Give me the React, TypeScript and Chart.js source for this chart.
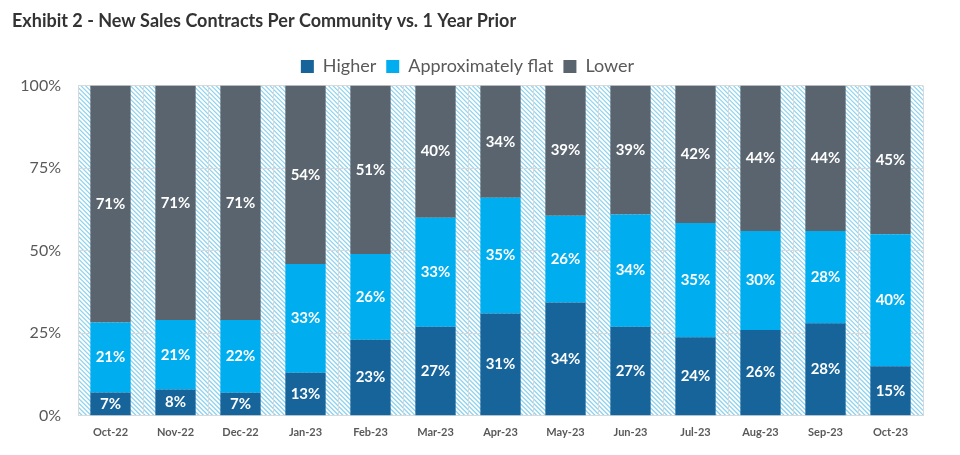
import React, { useEffect, useRef } from "react";
import { Chart, registerables } from "chart.js";

Chart.register(...registerables);

const categories = ["Oct-22", "Nov-22", "Dec-22", "Jan-23", "Feb-23", "Mar-23", "Apr-23", "May-23", "Jun-23", "Jul-23", "Aug-23", "Sep-23", "Oct-23"];
const higher = [7, 8, 7, 13, 23, 27, 31, 34, 27, 24, 26, 28, 15];
const flat = [21, 21, 22, 33, 26, 33, 35, 26, 34, 35, 30, 28, 40];
const lower = [71, 71, 71, 54, 51, 40, 34, 39, 39, 42, 44, 44, 45];
const seriesNames = ["Higher", "Approximately flat", "Lower"];
const seriesColors = ["#17649a", "#00aeef", "#59646f"];
const yTickValues = [0, 25, 50, 75, 100];

const FONT = "Lato, 'Open Sans', sans-serif";

const hatchPlugin = {
  id: "hatchBg",
  beforeDraw(chart: any) {
    const { ctx, chartArea } = chart;
    const { left, top, right, bottom } = chartArea;
    ctx.save();
    ctx.beginPath();
    ctx.rect(left, top, right - left, bottom - top);
    ctx.clip();
    ctx.fillStyle = "#ffffff";
    ctx.fillRect(left, top, right - left, bottom - top);
    ctx.strokeStyle = "#8fd4f0";
    ctx.lineWidth = 1.3;
    const h = bottom - top;
    ctx.beginPath();
    for (let x = left - h; x < right + 5; x += 4.5) {
      ctx.moveTo(x, top);
      ctx.lineTo(x + h, bottom);
    }
    ctx.stroke();
    ctx.restore();
  },
};

const labelPlugin = {
  id: "barLabels",
  afterDatasetsDraw(chart: any) {
    const { ctx } = chart;
    const raws = [higher, flat, lower];
    ctx.save();
    ctx.fillStyle = "#ffffff";
    ctx.font = `bold 15px ${FONT}`;
    ctx.textAlign = "center";
    ctx.textBaseline = "middle";
    chart.data.datasets.forEach((ds: any, di: number) => {
      const meta = chart.getDatasetMeta(di);
      meta.data.forEach((el: any, i: number) => {
        const y = (el.y + el.base) / 2;
        ctx.fillText(raws[di][i] + "%", el.x, y);
      });
    });
    ctx.restore();
  },
};

export default function App() {
  const ref = useRef<HTMLCanvasElement | null>(null);
  useEffect(() => {
    if (!ref.current) return;
    const totals = categories.map((_, i) => higher[i] + flat[i] + lower[i]);
    const norm = (arr: number[]) => arr.map((v, i) => (v / totals[i]) * 100);
    const chart = new Chart(ref.current, {
      type: "bar",
      data: {
        labels: categories,
        datasets: [higher, flat, lower].map((arr, k) => ({
          label: seriesNames[k],
          data: norm(arr),
          backgroundColor: seriesColors[k],
          borderWidth: 0,
          barPercentage: 0.62,
          categoryPercentage: 1,
        })),
      },
      options: {
        responsive: false,
        animation: false,
        layout: { padding: { left: 12, right: 37, top: 6, bottom: 6 } },
        plugins: {
          title: {
            display: true,
            text: "Exhibit 2 - New Sales Contracts Per Community vs. 1 Year Prior",
            align: "start",
            color: "#333333",
            font: { family: FONT, size: 18, weight: "bold" },
            padding: { top: 4, bottom: 16 },
          },
          legend: {
            display: true,
            position: "top",
            labels: {
              color: "#595959",
              font: { family: FONT, size: 18 },
              boxWidth: 13,
              boxHeight: 13,
              padding: 10,
            },
          },
          tooltip: { enabled: false },
        },
        scales: {
          x: {
            stacked: true,
            grid: { color: "#d9d9d9", drawTicks: false, offset: true },
            border: { color: "#d9d9d9" },
            ticks: {
              color: "#595959",
              font: { family: FONT, size: 11, weight: "bold" },
              padding: 10,
            },
          },
          y: {
            stacked: true,
            min: 0,
            max: 100,
            grid: { color: "#d9d9d9", drawTicks: false },
            border: { color: "#d9d9d9" },
            afterBuildTicks: (axis: any) => {
              axis.ticks = yTickValues.map((v) => ({ value: v }));
            },
            afterFit: (axis: any) => {
              axis.width = 66;
            },
            ticks: {
              color: "#595959",
              font: { family: FONT, size: 16 },
              padding: 17,
              callback: (v: any) => v + "%",
            },
          },
        },
      },
      plugins: [hatchPlugin, labelPlugin],
    });
    return () => chart.destroy();
  }, []);
  return (
    <div style={{ position: "absolute", left: 0, top: 0, width: 960, height: 455, background: "#fff" }}>
      <canvas ref={ref} width={960} height={455} />
    </div>
  );
}
